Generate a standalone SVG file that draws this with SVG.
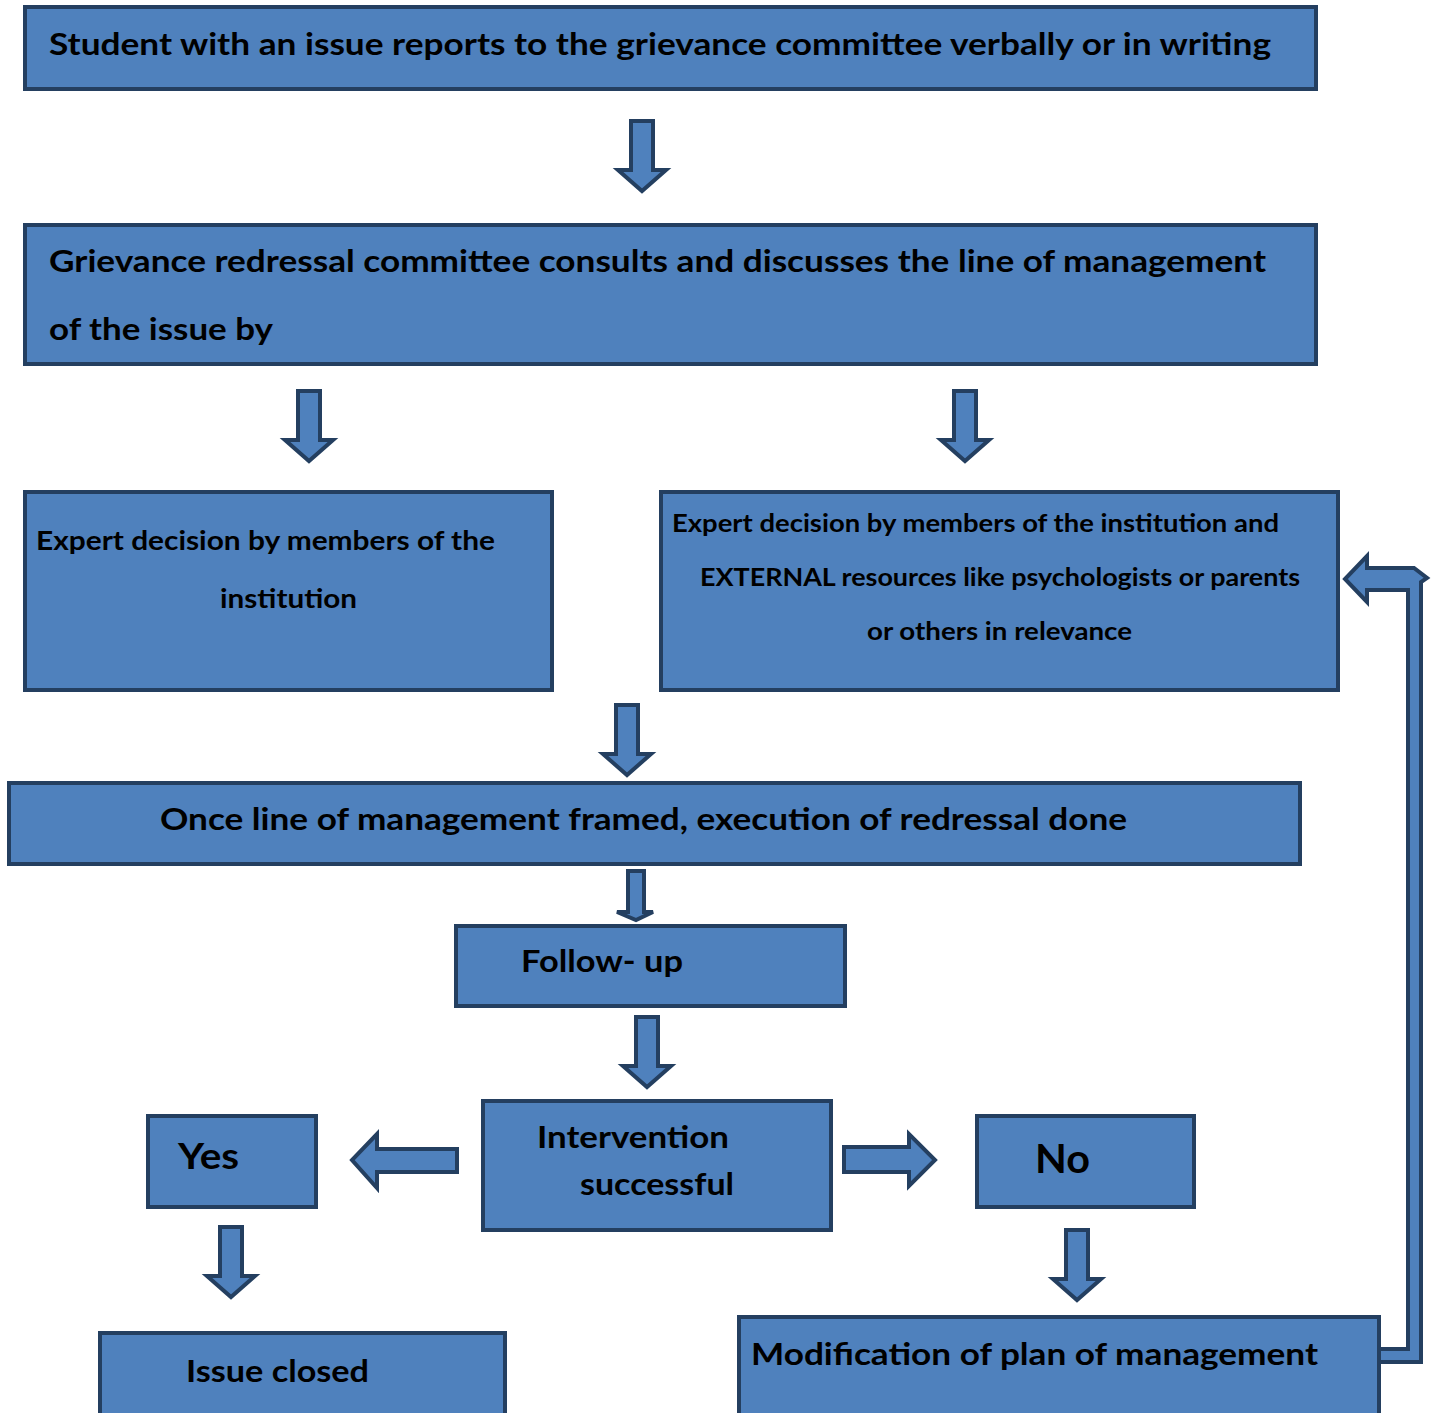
<svg xmlns="http://www.w3.org/2000/svg" xmlns:xlink="http://www.w3.org/1999/xlink" width="1435" height="1413" viewBox="0 0 1435 1413">
<style>
.box{fill:#4F81BD;stroke:#243F60;stroke-width:4}
.arr{fill:#4F81BD;stroke:#243F60;stroke-width:4;stroke-linejoin:miter}
text{font-family:"Lato","Open Sans","Liberation Sans",sans-serif;font-weight:bold;fill:#000}
</style>
<defs>
<polygon id="down" points="15,1 37,1 37,50 50,50 26,71 2,50 15,50"/>
</defs>
<rect width="1435" height="1413" fill="#fff"/>
<g id="connectors">
<use xlink:href="#down" class="arr" x="616" y="120"/>
<use xlink:href="#down" class="arr" x="283" y="390"/>
<use xlink:href="#down" class="arr" x="939" y="390"/>
<use xlink:href="#down" class="arr" x="601" y="704"/>
<polygon class="arr" points="628,871 644,871 644,912 653,912 636,920 617,912 628,912"/>
<use xlink:href="#down" class="arr" x="621" y="1016"/>
<polygon class="arr" points="457,1149 457,1172 377,1172 377,1188 352,1160 377,1134 377,1149"/>
<polygon class="arr" points="844,1147 909,1147 909,1134 935,1160 909,1186 909,1172 844,1172"/>
<use xlink:href="#down" class="arr" x="205" y="1226"/>
<use xlink:href="#down" class="arr" x="1051" y="1229"/>
<polygon class="arr" points="1379,1349 1408,1349 1408,590 1367,590 1367,602 1345,579 1367,556 1367,568 1414,568 1427,578 1421,582 1421,1362 1379,1362"/>
</g>
<g id="n1">
<rect class="box" x="25" y="7" width="1291" height="82"/>
<text x="49" y="55" font-size="30" textLength="1222" lengthAdjust="spacingAndGlyphs">Student with an issue reports to the grievance committee verbally or in writing</text>
</g>
<g id="n2">
<rect class="box" x="25" y="225" width="1291" height="139"/>
<text x="49" y="272" font-size="30" textLength="1217" lengthAdjust="spacingAndGlyphs">Grievance redressal committee consults and discusses the line of management</text>
<text x="49" y="340" font-size="30" textLength="224" lengthAdjust="spacingAndGlyphs">of the issue by</text>
</g>
<g id="n3">
<rect class="box" x="25" y="492" width="527" height="198"/>
<text x="36" y="550" font-size="26" textLength="459" lengthAdjust="spacingAndGlyphs">Expert decision by members of the</text>
<text x="220" y="608" font-size="26" textLength="137" lengthAdjust="spacingAndGlyphs">institution</text>
</g>
<g id="n4">
<rect class="box" x="661" y="492" width="677" height="198"/>
<text x="672" y="532" font-size="24" textLength="607" lengthAdjust="spacingAndGlyphs">Expert decision by members of the institution and</text>
<text x="700" y="586" font-size="24" textLength="600" lengthAdjust="spacingAndGlyphs">EXTERNAL resources like psychologists or parents</text>
<text x="867" y="640" font-size="24" textLength="265" lengthAdjust="spacingAndGlyphs">or others in relevance</text>
</g>
<g id="n5">
<rect class="box" x="9" y="783" width="1291" height="81"/>
<text x="160" y="830" font-size="31" textLength="967" lengthAdjust="spacingAndGlyphs">Once line of management framed, execution of redressal done</text>
</g>
<g id="n6">
<rect class="box" x="456" y="926" width="389" height="80"/>
<text x="521" y="972" font-size="31" textLength="162" lengthAdjust="spacingAndGlyphs">Follow- up</text>
</g>
<g id="n7">
<rect class="box" x="483" y="1101" width="348" height="129"/>
<text x="537" y="1148" font-size="31" textLength="192" lengthAdjust="spacingAndGlyphs">Intervention</text>
<text x="580" y="1195" font-size="31" textLength="154" lengthAdjust="spacingAndGlyphs">successful</text>
</g>
<g id="n8">
<rect class="box" x="148" y="1116" width="168" height="91"/>
<text x="178" y="1169" font-size="37" textLength="61" lengthAdjust="spacingAndGlyphs">Yes</text>
</g>
<g id="n9">
<rect class="box" x="977" y="1116" width="217" height="91"/>
<text x="1035" y="1173" font-size="40" textLength="55" lengthAdjust="spacingAndGlyphs">No</text>
</g>
<g id="n10">
<rect class="box" x="100" y="1333" width="405" height="100"/>
<text x="186" y="1382" font-size="31" textLength="183" lengthAdjust="spacingAndGlyphs">Issue closed</text>
</g>
<g id="n11">
<rect class="box" x="739" y="1317" width="640" height="116"/>
<text x="751" y="1365" font-size="31" textLength="567" lengthAdjust="spacingAndGlyphs">Modification of plan of management</text>
</g>
</svg>
